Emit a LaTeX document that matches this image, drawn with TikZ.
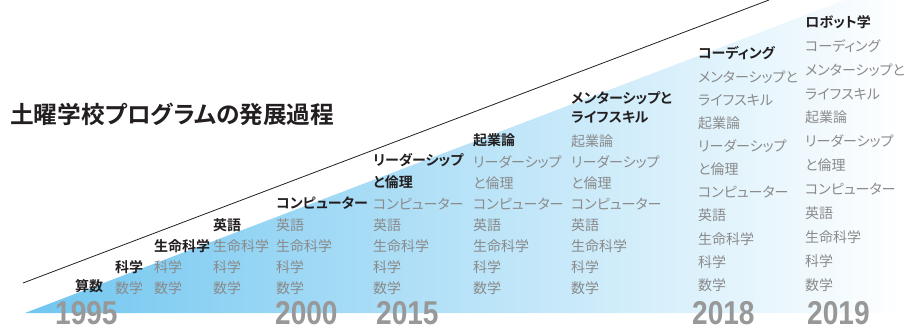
\documentclass[tikz,border=0pt]{standalone}
\usepackage{fontspec}
\newfontfamily\jp[RawFeature=+palt, BoldFont={Noto Sans CJK JP Bold}]{Noto Sans CJK JP}
\newfontfamily\yr[FakeStretch=0.85]{Liberation Sans}
\definecolor{tblue}{RGB}{112,198,240}
\definecolor{itemgray}{RGB}{138,138,138}
\definecolor{yeargray}{RGB}{152,152,152}
\definecolor{ink}{RGB}{35,31,32}
\begin{document}
\begin{tikzpicture}[x=1pt,y=-1pt,
  hdr/.style={anchor=west, inner sep=0pt, text height=12.3pt, text depth=1.7pt,
    font=\jp\bfseries\fontsize{14}{14}\selectfont, text=ink},
  itm/.style={hdr, font=\jp\fontsize{14}{14}\selectfont, text=itemgray},
  yearlbl/.style={anchor=base west, inner sep=0pt,
    font=\yr\bfseries\fontsize{33}{33}\selectfont, text=yeargray},
  titlelbl/.style={anchor=west, inner sep=0pt, text height=20.8pt, text depth=2.9pt,
    font=\jp\bfseries\fontsize{23.7}{23.7}\selectfont, text=ink}
]
\useasboundingbox (0,0) rectangle (912,331);
\clip (0,0) rectangle (912,331);
% gradient wedge
\shade[left color=tblue, right color=white] (25,313) -- (905,313) -- (905,-23) -- cycle;
% diagonal line
\draw[line width=0.8pt, ink] (23,283) -- (769,0);
% title
\node[titlelbl] (title) at (10,115) {土曜学校プログラムの発展過程};
% years
\node[yearlbl] (y1995) at (55,324) {1995};
\node[yearlbl] (y2000) at (275,324) {2000};
\node[yearlbl] (y2015) at (376,324) {2015};
\node[yearlbl] (y2018) at (692,324) {2018};
\node[yearlbl] (y2019) at (807,324) {2019};
% column 1
\node[hdr] (c1h) at (75,286) {算数};
% column 2
\node[hdr] (c2h) at (115,267) {科学};
\node[itm] (c2a) at (115,288) {数学};
% column 3
\node[hdr] (c3h) at (154,246) {生命科学};
\foreach \t [count=\i from 6] in {科学,数学}
  \node[itm] (c3-\i) at (154,{141+21*\i}) {\t};
% column 4
\node[hdr] (c4h) at (213,225) {英語};
\foreach \t [count=\i from 5] in {生命科学,科学,数学}
  \node[itm] (c4-\i) at (213,{141+21*\i}) {\t};
% column 5
\node[hdr] (c5h) at (276,203) {コンピューター};
\foreach \t [count=\i from 4] in {英語,生命科学,科学,数学}
  \node[itm] (c5-\i) at (276,{141+21*\i}) {\t};
% column 6
\node[hdr] (c6h1) at (373,160) {リーダーシップ};
\node[hdr] (c6h2) at (373,182) {と倫理};
\foreach \t [count=\i from 3] in {コンピューター,英語,生命科学,科学,数学}
  \node[itm] (c6-\i) at (373,{141+21*\i}) {\t};
% column 7
\node[hdr] (c7h) at (473,140) {起業論};
\foreach \t [count=\i from 1] in {リーダーシップ,と倫理,コンピューター,英語,生命科学,科学,数学}
  \node[itm] (c7-\i) at (473,{141+21*\i}) {\t};
% column 8
\node[hdr] (c8h1) at (571,98) {メンターシップと};
\node[hdr] (c8h2) at (571,117) {ライフスキル};
\foreach \t [count=\i from 0] in {起業論,リーダーシップ,と倫理,コンピューター,英語,生命科学,科学,数学}
  \node[itm] (c8-\i) at (571,{141+21*\i}) {\t};
% column 9 (2018)
\node[hdr] (c9h) at (698,53) {コーディング};
\foreach \t [count=\i from 0] in {メンターシップと,ライフスキル,起業論,リーダーシップ,と倫理,コンピューター,英語,生命科学,科学,数学}
  \node[itm] (c9-\i) at (698,{77+23.1*\i}) {\t};
% column 10 (2019)
\node[hdr] (c10h) at (805,22) {ロボット学};
\foreach \t [count=\i from 0] in {コーディング,メンターシップと,ライフスキル,起業論,リーダーシップ,と倫理,コンピューター,英語,生命科学,科学,数学}
  \node[itm] (c10-\i) at (805,{46+23.9*\i}) {\t};
\end{tikzpicture}
\end{document}
